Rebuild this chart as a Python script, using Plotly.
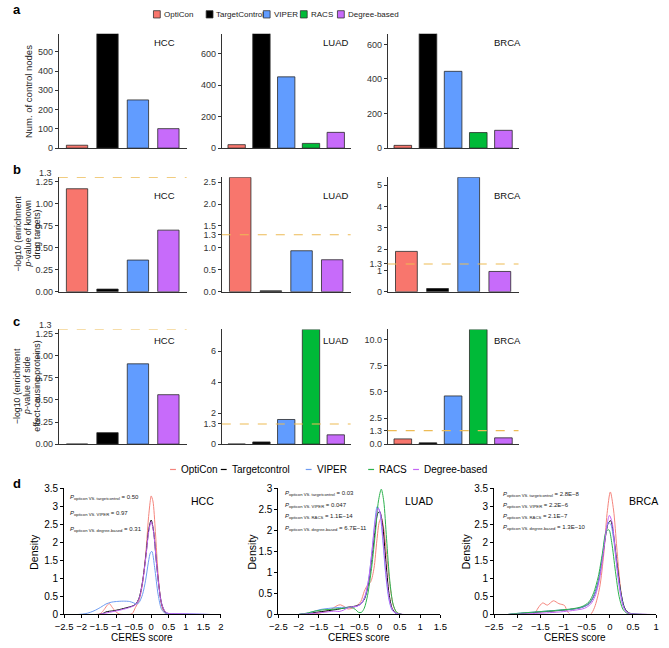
import plotly.graph_objects as go

W, H = 669, 648

# ---------------- data ----------------
methods = ["OptiCon", "TargetControl", "VIPER", "RACS", "Degree-based"]
bar_colors = ["#F8766D", "#000000", "#619CFF", "#00BA38", "#C76BFA"]
line_colors = ["#F4857D", "#000000", "#6E9CF2", "#2DB24E", "#C465F5"]
legend_d_labels = ["OptiCon", "Targetcontrol", "VIPER", "RACS", "Degree-based"]

# panel a: number of control nodes (TargetControl bars exceed the axis range)
a_hcc_methods = ["OptiCon", "TargetControl", "VIPER", "Degree-based"]
a_hcc_vals = [15, 1000, 250, 101]
a_luad_methods = methods
a_luad_vals = [22, 1000, 452, 30, 100]
a_brca_methods = methods
a_brca_vals = [16, 1000, 444, 90, 103]
a_ranges = [593, 725, 661]
a_hcc_ticks = [0, 100, 200, 300, 400, 500]
a_luad_ticks = [0, 200, 400, 600]
a_brca_ticks = [0, 200, 400, 600]

# panel b: -log10 enrichment p-value of known drug targets
b_hcc_methods = ["OptiCon", "TargetControl", "VIPER", "Degree-based"]
b_hcc_vals = [1.17, 0.03, 0.36, 0.70]
b_luad_methods = ["OptiCon", "TargetControl", "VIPER", "Degree-based"]
b_luad_vals = [2.61, 0.02, 0.935, 0.73]
b_brca_methods = ["OptiCon", "TargetControl", "VIPER", "Degree-based"]
b_brca_vals = [1.89, 0.15, 5.36, 0.95]
b_hcc_ticks = [0, 0.25, 0.5, 0.75, 1.0, 1.25]
b_hcc_ticktext = ["0.00", "0.25", "0.50", "0.75", "1.00", "1.25"]
b_luad_ticks = [0, 0.5, 1.0, 1.3, 1.5, 2.0, 2.5]
b_luad_ticktext = ["0.0", "0.5", "1.0", "1.3", "1.5", "2.0", "2.5"]
b_brca_ticks = [0, 1, 1.3, 2, 3, 4, 5]
b_brca_ticktext = ["0", "1", "1.3", "2", "3", "4", "5"]

# panel c: -log10 enrichment p-value of side-effect-causing proteins
c_hcc_methods = ["OptiCon", "TargetControl", "VIPER", "Degree-based"]
c_hcc_vals = [0, 0.13, 0.91, 0.56]
c_luad_methods = methods
c_luad_vals = [0, 0.14, 1.59, 7.41, 0.60]
c_brca_methods = methods
c_brca_vals = [0.50, 0.12, 4.62, 11.0, 0.60]
c_hcc_ticks = b_hcc_ticks
c_hcc_ticktext = b_hcc_ticktext
c_luad_ticks = [0, 1.3, 2, 4, 6]
c_luad_ticktext = ["0", "1.3", "2", "4", "6"]
c_brca_ticks = [0, 1.3, 2.5, 5, 7.5, 10]
c_brca_ticktext = ["0.0", "1.3", "2.5", "5.0", "7.5", "10.0"]

threshold = 1.3
cancers = ["HCC", "LUAD", "BRCA"]

# panel d: density of CERES scores
hcc_opticon_x = [-2.5, -1.6, -1.45, -1.35, -1.25, -1.2, -1.12, -1.0, -0.9, -0.7, -0.55, -0.45, -0.35, -0.25, -0.15, -0.08, -0.02, 0.0, 0.05, 0.12, 0.2, 0.28, 0.35, 0.45, 0.6]
hcc_opticon_y = [0, 0, 0.03, 0.14, 0.27, 0.3, 0.2, 0.06, 0.01, 0.0, 0.02, 0.2, 0.38, 0.85, 1.75, 2.65, 3.2, 3.29, 3.15, 2.3, 1.1, 0.35, 0.08, 0.01, 0]
hcc_tc_x = [-1.5, -1.4, -1.3, -1.2, -1.1, -0.9, -0.7, -0.55, -0.45, -0.35, -0.25, -0.15, -0.07, 0.0, 0.07, 0.15, 0.22, 0.3, 0.4, 0.5, 0.7, 1.0]
hcc_tc_y = [0, 0.02, 0.07, 0.09, 0.1, 0.14, 0.19, 0.23, 0.28, 0.45, 0.9, 1.65, 2.35, 2.62, 2.3, 1.45, 0.8, 0.3, 0.07, 0.02, 0.01, 0]
hcc_viper_x = [-2.1, -1.9, -1.75, -1.6, -1.45, -1.3, -1.15, -1.0, -0.8, -0.62, -0.5, -0.42, -0.35, -0.25, -0.16, -0.08, -0.02, 0.02, 0.1, 0.2, 0.3, 0.4, 0.6, 1.0, 1.4, 1.7]
hcc_viper_y = [0, 0.02, 0.06, 0.12, 0.2, 0.29, 0.34, 0.36, 0.37, 0.36, 0.32, 0.29, 0.33, 0.55, 0.95, 1.45, 1.72, 1.75, 1.3, 0.55, 0.14, 0.04, 0.02, 0.02, 0.01, 0]
hcc_degree_x = [-1.5, -1.3, -1.1, -0.9, -0.7, -0.55, -0.45, -0.35, -0.25, -0.15, -0.07, 0.0, 0.07, 0.15, 0.22, 0.3, 0.4, 0.5, 0.8, 1.2, 1.7]
hcc_degree_y = [0, 0.04, 0.08, 0.12, 0.17, 0.22, 0.27, 0.43, 0.88, 1.62, 2.3, 2.58, 2.28, 1.45, 0.8, 0.3, 0.08, 0.03, 0.02, 0.01, 0]

luad_opticon_x = [-1.7, -1.5, -1.3, -1.15, -1.05, -0.97, -0.88, -0.78, -0.68, -0.58, -0.47, -0.38, -0.3, -0.22, -0.14, -0.07, -0.01, 0.04, 0.1, 0.18, 0.26, 0.34, 0.42, 0.55]
luad_opticon_y = [0, 0.03, 0.08, 0.15, 0.21, 0.23, 0.19, 0.13, 0.15, 0.2, 0.3, 0.55, 0.7, 0.78, 1.1, 1.75, 2.2, 2.3, 2.05, 1.35, 0.65, 0.2, 0.05, 0]
luad_tc_x = [-2.0, -1.8, -1.5, -1.2, -1.0, -0.8, -0.6, -0.47, -0.37, -0.28, -0.2, -0.12, -0.05, 0.0, 0.07, 0.15, 0.23, 0.31, 0.4, 0.55]
luad_tc_y = [0, 0.02, 0.06, 0.1, 0.13, 0.17, 0.2, 0.25, 0.38, 0.72, 1.3, 1.95, 2.4, 2.45, 2.15, 1.3, 0.5, 0.14, 0.03, 0]
luad_viper_x = [-2.0, -1.8, -1.6, -1.45, -1.3, -1.1, -0.9, -0.7, -0.55, -0.45, -0.35, -0.27, -0.19, -0.12, -0.06, 0.0, 0.07, 0.15, 0.23, 0.31, 0.4, 0.55]
luad_viper_y = [0, 0.03, 0.08, 0.12, 0.14, 0.16, 0.17, 0.17, 0.2, 0.27, 0.45, 0.85, 1.5, 2.2, 2.57, 2.45, 1.85, 0.95, 0.35, 0.1, 0.03, 0]
luad_racs_x = [-2.0, -1.8, -1.6, -1.4, -1.2, -1.0, -0.85, -0.7, -0.6, -0.52, -0.45, -0.38, -0.3, -0.2, -0.1, -0.03, 0.04, 0.1, 0.17, 0.25, 0.33, 0.42, 0.55]
luad_racs_y = [0, 0.03, 0.08, 0.11, 0.12, 0.14, 0.15, 0.17, 0.12, 0.05, 0.05, 0.15, 0.45, 1.1, 2.0, 2.7, 2.98, 2.7, 1.8, 0.8, 0.25, 0.05, 0]
luad_degree_x = [-2.0, -1.6, -1.3, -1.1, -1.0, -0.9, -0.8, -0.7, -0.55, -0.45, -0.36, -0.27, -0.19, -0.11, -0.04, 0.02, 0.1, 0.18, 0.26, 0.34, 0.43, 0.6]
luad_degree_y = [0, 0.03, 0.06, 0.08, 0.07, 0.1, 0.15, 0.18, 0.2, 0.26, 0.45, 0.85, 1.5, 2.2, 2.53, 2.4, 1.6, 0.75, 0.25, 0.07, 0.02, 0]

brca_opticon_x = [-1.7, -1.62, -1.55, -1.45, -1.35, -1.22, -1.1, -0.98, -0.92, -0.85, -0.6, -0.42, -0.33, -0.22, -0.13, -0.06, 0.01, 0.08, 0.15, 0.22, 0.29, 0.38, 0.5]
brca_opticon_y = [0, 0.03, 0.18, 0.32, 0.26, 0.38, 0.3, 0.25, 0.09, 0.0, 0.0, 0.0, 0.2, 0.75, 1.7, 2.8, 3.4, 2.9, 1.85, 0.85, 0.25, 0.05, 0]
brca_tc_x = [-2.2, -2.0, -1.7, -1.4, -1.1, -0.8, -0.6, -0.45, -0.35, -0.25, -0.17, -0.09, -0.03, 0.02, 0.08, 0.16, 0.24, 0.32, 0.4, 0.55, 0.8]
brca_tc_y = [0, 0.02, 0.05, 0.08, 0.11, 0.15, 0.2, 0.3, 0.5, 0.9, 1.5, 2.2, 2.55, 2.6, 2.2, 1.35, 0.6, 0.18, 0.05, 0.01, 0]
brca_viper_x = [-2.2, -2.0, -1.7, -1.4, -1.1, -0.8, -0.6, -0.45, -0.35, -0.25, -0.17, -0.09, -0.03, 0.02, 0.08, 0.16, 0.24, 0.32, 0.4, 0.55, 0.8]
brca_viper_y = [0, 0.03, 0.06, 0.09, 0.12, 0.15, 0.2, 0.3, 0.5, 0.9, 1.55, 2.25, 2.55, 2.5, 2.1, 1.25, 0.55, 0.15, 0.04, 0.01, 0]
brca_racs_x = [-2.2, -2.0, -1.7, -1.4, -1.1, -0.8, -0.6, -0.45, -0.35, -0.25, -0.16, -0.08, -0.02, 0.04, 0.12, 0.2, 0.28, 0.36, 0.5, 0.7]
brca_racs_y = [0, 0.03, 0.06, 0.09, 0.12, 0.16, 0.22, 0.35, 0.6, 1.05, 1.7, 2.3, 2.35, 2.0, 1.2, 0.5, 0.15, 0.04, 0.01, 0]
brca_degree_x = [-2.2, -1.9, -1.6, -1.3, -1.0, -0.75, -0.55, -0.42, -0.32, -0.22, -0.13, -0.06, -0.01, 0.05, 0.12, 0.2, 0.28, 0.36, 0.45, 0.6, 0.9]
brca_degree_y = [0, 0.01, 0.03, 0.05, 0.08, 0.12, 0.17, 0.28, 0.5, 1.0, 1.8, 2.5, 2.75, 2.55, 1.7, 0.8, 0.25, 0.06, 0.02, 0.01, 0]

d_x_ranges = [[-2.5, 2], [-2.5, 1.5], [-2.5, 1]]
d_y_ranges = [[0, 3.5], [0, 3], [0, 3.5]]
d_hcc_xticks = [-2.5, -2, -1.5, -1, -0.5, 0, 0.5, 1, 1.5, 2]
d_hcc_xticktext = ["−2.5", "−2", "−1.5", "−1", "−0.5", "0", "0.5", "1", "1.5", "2"]
d_luad_xticks = [-2.5, -2, -1.5, -1, -0.5, 0, 0.5, 1, 1.5]
d_luad_xticktext = ["−2.5", "−2", "−1.5", "−1", "−0.5", "0", "0.5", "1", "1.5"]
d_brca_xticks = [-2.5, -2, -1.5, -1, -0.5, 0, 0.5, 1]
d_brca_xticktext = ["−2.5", "−2", "−1.5", "−1", "−0.5", "0", "0.5", "1"]
d_yticks_35 = [0, 0.5, 1, 1.5, 2, 2.5, 3, 3.5]
d_yticktext_35 = ["0", "0.5", "1", "1.5", "2", "2.5", "3", "3.5"]
d_yticks_3 = [0, 0.5, 1, 1.5, 2, 2.5, 3]
d_yticktext_3 = ["0", "0.5", "1", "1.5", "2", "2.5", "3"]

hcc_pvals = [("targetcontrol", "0.50"), ("VIPER", "0.97"), ("degree-based", "0.31")]
luad_pvals = [("targetcontrol", "0.03"), ("VIPER", "0.047"), ("RACS", "1.1E−14"), ("degree-based", "6.7E−11")]
brca_pvals = [("targetcontrol", "2.8E−8"), ("VIPER", "2.2E−6"), ("RACS", "2.1E−7"), ("degree-based", "1.3E−10")]

b_title_lines = ["−log10 (enrichment", "<i>p</i>-value of known", "drug targets)"]
c_title_lines = ["−log10 (enrichment", "<i>p</i>-value of side", "effect-causing proteins)"]

# ---------------- layout helpers ----------------
def fx(px):
    return px / W

def fy(py):
    return 1 - py / H

SANS = "Liberation Sans, Arial, sans-serif"
AX = "#333333"

fig = go.Figure()
layout = dict(width=W, height=H, margin=dict(l=0, r=0, t=0, b=0),
              paper_bgcolor="white", plot_bgcolor="white", showlegend=False,
              barmode="overlay")
annotations = []
shapes = []

bar_cols = [(51, 182), (218, 350), (388, 522)]
bar_rows = [(29.3, 145.6), (175.3, 291.7), (330, 446.7)]

bar_panels = [
    (a_hcc_methods, a_hcc_vals, a_ranges[0], a_hcc_ticks, [str(t) for t in a_hcc_ticks], False),
    (a_luad_methods, a_luad_vals, a_ranges[1], a_luad_ticks, [str(t) for t in a_luad_ticks], False),
    (a_brca_methods, a_brca_vals, a_ranges[2], a_brca_ticks, [str(t) for t in a_brca_ticks], False),
    (b_hcc_methods, b_hcc_vals, max(max(b_hcc_vals), threshold), b_hcc_ticks, b_hcc_ticktext, True),
    (b_luad_methods, b_luad_vals, max(max(b_luad_vals), threshold), b_luad_ticks, b_luad_ticktext, True),
    (b_brca_methods, b_brca_vals, max(max(b_brca_vals), threshold), b_brca_ticks, b_brca_ticktext, True),
    (c_hcc_methods, c_hcc_vals, max(max(c_hcc_vals), threshold), c_hcc_ticks, c_hcc_ticktext, True),
    (c_luad_methods, c_luad_vals, max(max(c_luad_vals), threshold), c_luad_ticks, c_luad_ticktext, True),
    (c_brca_methods, c_brca_vals, max(max(c_brca_vals), threshold), c_brca_ticks, c_brca_ticktext, True),
]

def axname(i):
    return "" if i == 1 else str(i)

for k, (cats, vals, top, tv, tt, dashed) in enumerate(bar_panels):
    i = k + 1
    r, c = divmod(k, 3)
    x0, x1 = bar_cols[c]
    yt, yb = bar_rows[r]
    n = axname(i)
    layout["xaxis" + n] = dict(domain=[fx(x0), fx(x1)], anchor="y" + n, type="category",
                               categoryorder="array", categoryarray=cats,
                               range=[-0.6, len(cats) - 0.4], showline=True, linecolor=AX,
                               linewidth=1, ticks="", showticklabels=False, showgrid=False,
                               zeroline=False)
    layout["yaxis" + n] = dict(domain=[fy(yb), fy(yt)], anchor="x" + n, range=[0, top],
                               tickmode="array", tickvals=tv, ticktext=tt, ticks="outside",
                               ticklen=3, tickwidth=1, tickcolor=AX, showline=True, linecolor=AX,
                               linewidth=1, showgrid=False, zeroline=False,
                               tickfont=dict(family=SANS, size=9, color="#333"))
    for m, v in zip(cats, vals):
        col = bar_colors[methods.index(m)]
        fig.add_trace(go.Bar(x=[m], y=[v], width=0.7, marker=dict(color=col, line=dict(color="#2a2a2a", width=0.8)),
                             xaxis="x" + n, yaxis="y" + n, showlegend=False, hoverinfo="skip"))
    if dashed:
        shapes.append(dict(type="line", xref="x" + n + " domain", x0=0, x1=1, yref="y" + n,
                           y0=threshold, y1=threshold, line=dict(color="#EDBB55", width=1.2, dash="dash"),
                           layer="above"))
        if threshold not in tv:
            annotations.append(dict(text="1.3", xref="x" + n + " domain", x=0, xanchor="right", xshift=-5,
                                    yref="y" + n, y=threshold, yanchor="middle", yshift=4, showarrow=False,
                                    font=dict(family=SANS, size=9, color="#333")))
    annotations.append(dict(text=cancers[c], xref="paper", yref="paper",
                            x=fx([159, 334, 511][c]), y=fy(yt + [9, 18, 11][r]),
                            xanchor="center", yanchor="middle", showarrow=False,
                            font=dict(family=SANS, size=9.5, color="#111")))

# density panels
d_cols = [(56.5, 217), (276, 442), (497, 663)]
d_top, d_bot = 491.7, 620
d_curves = [
    [(hcc_opticon_x, hcc_opticon_y, 0), (hcc_tc_x, hcc_tc_y, 1), (hcc_viper_x, hcc_viper_y, 2), (hcc_degree_x, hcc_degree_y, 4)],
    [(luad_opticon_x, luad_opticon_y, 0), (luad_tc_x, luad_tc_y, 1), (luad_viper_x, luad_viper_y, 2), (luad_racs_x, luad_racs_y, 3), (luad_degree_x, luad_degree_y, 4)],
    [(brca_opticon_x, brca_opticon_y, 0), (brca_tc_x, brca_tc_y, 1), (brca_viper_x, brca_viper_y, 2), (brca_racs_x, brca_racs_y, 3), (brca_degree_x, brca_degree_y, 4)],
]
d_xt = [(d_hcc_xticks, d_hcc_xticktext), (d_luad_xticks, d_luad_xticktext), (d_brca_xticks, d_brca_xticktext)]
d_yt = [(d_yticks_35, d_yticktext_35), (d_yticks_3, d_yticktext_3), (d_yticks_35, d_yticktext_35)]
d_pv = [hcc_pvals, luad_pvals, brca_pvals]
pv_x = [60, 281, 504]
pv_y = [[500.5, 517, 533.5], [496.5, 509, 520.5, 532.5], [497.5, 509, 520, 531.7]]
d_label_x = [198, 420, 650]
d_ylabel_x = [26, 249, 469]

for c in range(3):
    i = 10 + c
    n = axname(i)
    x0, x1 = d_cols[c]
    layout["xaxis" + n] = dict(domain=[fx(x0), fx(x1)], anchor="y" + n, range=d_x_ranges[c],
                               tickmode="array", tickvals=d_xt[c][0], ticktext=d_xt[c][1], tickangle=0,
                               ticks="outside", ticklen=3, tickcolor="#000", showline=True, linecolor="#000",
                               linewidth=1, showgrid=False, zeroline=False,
                               tickfont=dict(family=SANS, size=9.5, color="#000"))
    layout["yaxis" + n] = dict(domain=[fy(d_bot), fy(d_top)], anchor="x" + n, range=d_y_ranges[c],
                               tickmode="array", tickvals=d_yt[c][0], ticktext=d_yt[c][1],
                               ticks="outside", ticklen=3, tickcolor="#000", showline=True, linecolor="#000",
                               linewidth=1, showgrid=False, zeroline=False,
                               tickfont=dict(family=SANS, size=10, color="#000"))
    for xs, ys, mi in d_curves[c]:
        fig.add_trace(go.Scatter(x=xs, y=ys, mode="lines", line=dict(color=line_colors[mi], width=1, shape="spline", smoothing=0.8),
                                 xaxis="x" + n, yaxis="y" + n, showlegend=False, hoverinfo="skip"))
    for j, (name, val) in enumerate(d_pv[c]):
        annotations.append(dict(text="<i>P</i><sub>opticon VS. " + name + "</sub> = " + val,
                                xref="paper", yref="paper", x=fx(pv_x[c]), y=fy(pv_y[c][j]),
                                xanchor="left", yanchor="middle", showarrow=False,
                                font=dict(family=SANS, size=6, color="#222")))
    annotations.append(dict(text=cancers[c], xref="paper", yref="paper", x=fx(d_label_x[c]), y=fy(505),
                            xanchor="center", yanchor="middle", showarrow=False,
                            font=dict(family=SANS, size=10.5, color="#000")))
    annotations.append(dict(text="Density", xref="paper", yref="paper", x=fx(d_ylabel_x[c]),
                            y=fy((d_top + d_bot) / 2), textangle=-90, xanchor="center", yanchor="middle",
                            showarrow=False, font=dict(family=SANS, size=10.5, color="#000")))
    annotations.append(dict(text="CERES score", xref="paper", yref="paper", x=fx((x0 + x1) / 2),
                            y=fy(643), xanchor="center", yanchor="middle",
                            showarrow=False, font=dict(family=SANS, size=10, color="#000")))

# y-axis titles of bar rows
annotations.append(dict(text="Num. of control nodes", xref="paper", yref="paper", x=fx(20), y=fy(88),
                        textangle=-90, showarrow=False, xanchor="center", yanchor="middle",
                        font=dict(family=SANS, size=9.5, color="#222")))
for lines, cy in [(b_title_lines, 233), (c_title_lines, 388)]:
    for j, txt in enumerate(lines):
        annotations.append(dict(text=txt, xref="paper", yref="paper", x=fx(9 + 10 * j), y=fy(cy),
                                textangle=-90, showarrow=False, xanchor="center", yanchor="middle",
                                font=dict(family=SANS, size=8.8, color="#222")))

# panel letters
for letter, py in zip(["a", "b", "c", "d"], [5, 167, 322, 487]):
    annotations.append(dict(text="<b>" + letter + "</b>", xref="paper", yref="paper", x=fx(2), y=fy(py),
                            xanchor="left", yanchor="middle", showarrow=False,
                            font=dict(family=SANS, size=13, color="#000")))

# legend for bars (panels a-c)
leg_a_x = [148, 202, 260.5, 298.5, 336.5]
leg_a_y = 9.5
for m, col, lx in zip(methods, bar_colors, leg_a_x):
    shapes.append(dict(type="rect", xref="paper", yref="paper", x0=fx(lx), x1=fx(lx + 7),
                       y0=fy(leg_a_y + 3.7), y1=fy(leg_a_y - 3.7), fillcolor=col,
                       line=dict(color="#333", width=0.8)))
    annotations.append(dict(text=m, xref="paper", yref="paper", x=fx(lx + 8.5), y=fy(leg_a_y),
                            xanchor="left", yanchor="middle", showarrow=False,
                            font=dict(family=SANS, size=8, color="#222")))

# legend for density panels
leg_d_x = [165, 217, 304, 368, 414]
leg_d_y = 472.5
for lab, col, lx in zip(legend_d_labels, line_colors, leg_d_x):
    shapes.append(dict(type="line", xref="paper", yref="paper", x0=fx(lx), x1=fx(lx + 6),
                       y0=fy(leg_d_y), y1=fy(leg_d_y), line=dict(color=col, width=1.2)))
    annotations.append(dict(text=lab, xref="paper", yref="paper", x=fx(lx + 9), y=fy(leg_d_y),
                            xanchor="left", yanchor="middle", showarrow=False,
                            font=dict(family=SANS, size=10, color="#000")))

layout["annotations"] = annotations
layout["shapes"] = shapes
fig.update_layout(**layout)
fig.write_html("out.html", config={"displayModeBar": False},
               post_script="document.body.style.margin='0px';")
